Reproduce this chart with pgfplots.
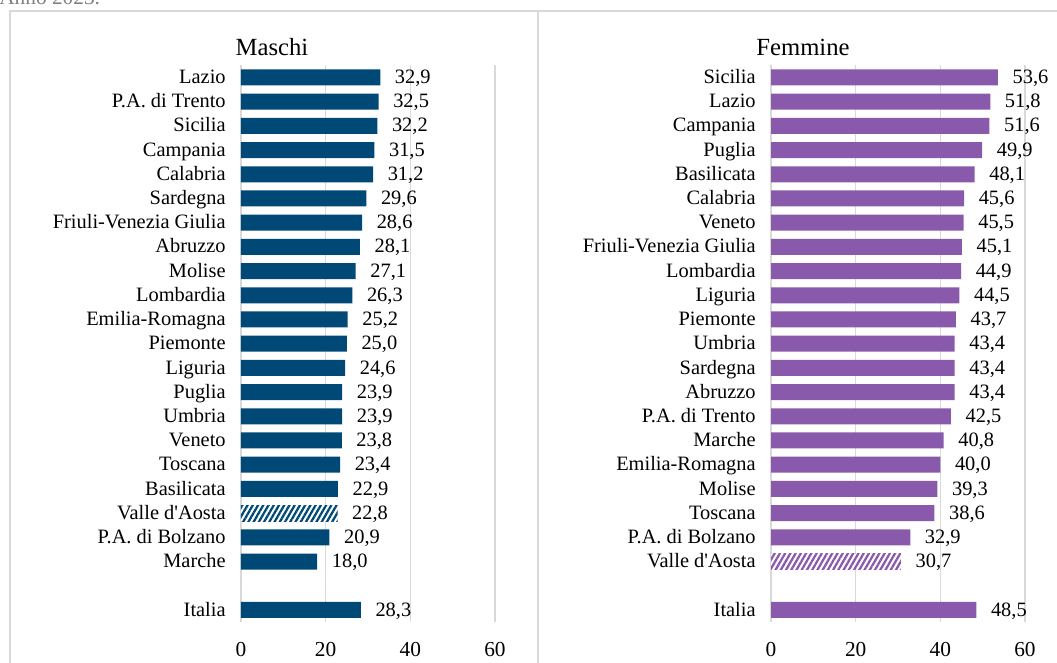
\documentclass[border=0pt]{standalone}
\usepackage{pgfplots}
\pgfplotsset{compat=1.18}
\usetikzlibrary{patterns.meta}
\usepackage{fontspec}
\setmainfont{Liberation Serif}
\definecolor{blu}{RGB}{0,72,118}
\definecolor{viola}{RGB}{137,90,171}
\definecolor{griglia}{RGB}{217,217,217}
\newcommand{\fnt}{\fontsize{15.3}{17}\selectfont}

\pgfplotsset{
  pannello/.style={
    xbar, scale only axis, width=190.5pt, height=417.5pt,
    xmin=0, xmax=60, ymin=-0.5, ymax=22.5,
    xtick={0,20,40,60}, ytick={0,2,3,...,22},
    axis line style={draw=none}, major tick length=0pt,
    xmajorgrids, grid style={griglia, line width=1.2pt},
    bar width=12pt, bar shift=0pt,
    /pgf/number format/assume math mode=true,
    tick label style={font=\fnt, text=black},
    xticklabel style={yshift=-12pt, font=\fontsize{16}{18}\selectfont},
    yticklabel style={xshift=-8pt, yshift=-2.2pt, text height=0.7em, text depth=0.22em},
    nodes near coords,
    every node near coord/.append style={xshift=7.5pt, yshift=-2.2pt, text height=0.7em, text depth=0.22em},
    nodes near coords style={font=\fnt, text=black,
      /pgf/number format/.cd, fixed, fixed zerofill, precision=1, use comma, assume math mode=true},
    clip=false,
  }
}

\begin{document}
\begin{tikzpicture}
\path[use as bounding box] (0,0) rectangle (792.75pt,-496.5pt);
\clip (0,0) rectangle (792.75pt,-496.5pt);

\begin{scope}[x=0.75pt, y=-0.75pt]
  \draw[griglia, line width=1.4pt] (10,670) -- (10,11) -- (1060,11);
  \draw[griglia, line width=1.4pt] (538,11) -- (538,670);
  \node[anchor=base west, text=black!50, font=\fontsize{16}{18}\selectfont, inner sep=0pt] at (-1,4) {Anno 2023.};
  \node[font=\fontsize{18.5}{20}\selectfont, inner sep=0pt] at (272,47) {Maschi};
  \node[font=\fontsize{18.5}{20}\selectfont, inner sep=0pt] at (803,47) {Femmine};
\end{scope}

% Maschi
\begin{axis}[pannello, at={(180.75pt,-466.5pt)}, anchor=south west,
  yticklabels={Italia,Marche,P.A. di Bolzano,Valle d\textquotesingle Aosta,Basilicata,Toscana,Veneto,Umbria,Puglia,Liguria,Piemonte,Emilia-Romagna,Lombardia,Molise,Abruzzo,Friuli-Venezia Giulia,Sardegna,Calabria,Campania,Sicilia,P.A. di Trento,Lazio}]
\addplot[draw=none, fill=blu] coordinates {
  (28.3,0) (18.0,2) (20.9,3) (22.9,5) (23.4,6) (23.8,7) (23.9,8) (23.9,9)
  (24.6,10) (25.0,11) (25.2,12) (26.3,13) (27.1,14) (28.1,15) (28.6,16)
  (29.6,17) (31.2,18) (31.5,19) (32.2,20) (32.5,21) (32.9,22)};
\addplot[draw=none, fill=white,
  postaction={pattern={Lines[angle=60,distance=3.4pt,line width=1.7pt]}, pattern color=blu}]
  coordinates {(22.8,4)};
\end{axis}

% Femmine
\begin{axis}[pannello, at={(578.25pt,-466.5pt)}, anchor=south west,
  yticklabels={Italia,Valle d\textquotesingle Aosta,P.A. di Bolzano,Toscana,Molise,Emilia-Romagna,Marche,P.A. di Trento,Abruzzo,Sardegna,Umbria,Piemonte,Liguria,Lombardia,Friuli-Venezia Giulia,Veneto,Calabria,Basilicata,Puglia,Campania,Lazio,Sicilia}]
\addplot[draw=none, fill=viola] coordinates {
  (48.5,0) (32.9,3) (38.6,4) (39.3,5) (40.0,6) (40.8,7) (42.5,8) (43.4,9)
  (43.4,10) (43.4,11) (43.7,12) (44.5,13) (44.9,14) (45.1,15) (45.5,16)
  (45.6,17) (48.1,18) (49.9,19) (51.6,20) (51.8,21) (53.6,22)};
\addplot[draw=none, fill=white,
  postaction={pattern={Lines[angle=60,distance=3.4pt,line width=1.7pt]}, pattern color=viola}]
  coordinates {(30.7,2)};
\end{axis}
\end{tikzpicture}
\end{document}
